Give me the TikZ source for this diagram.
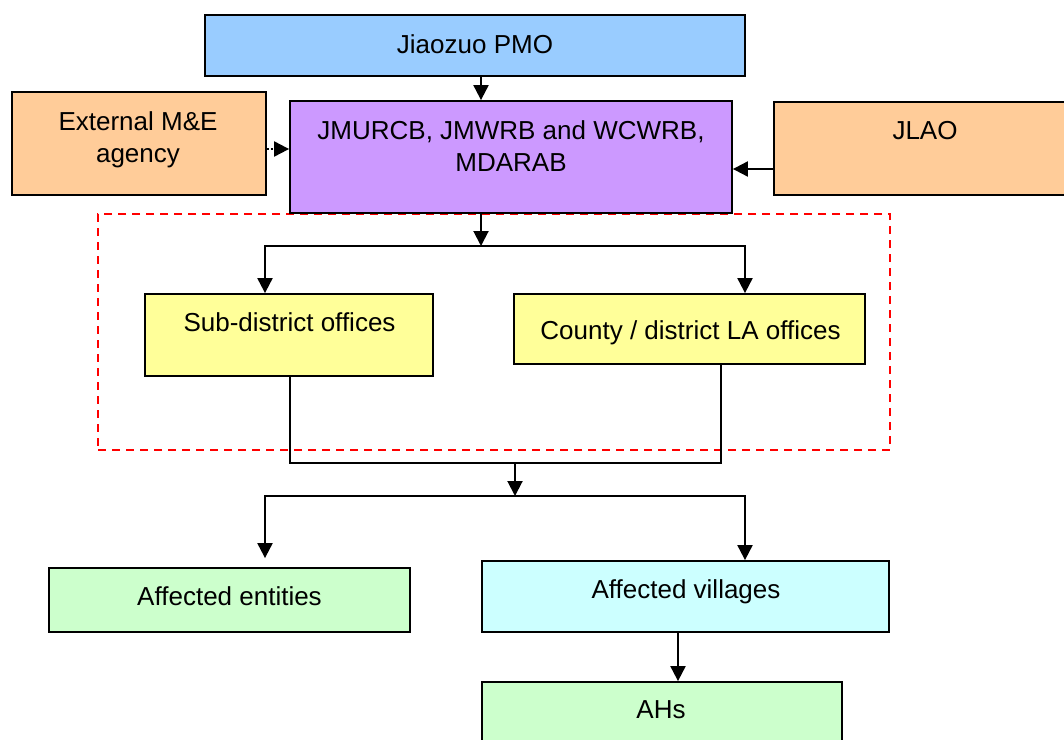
\documentclass[tikz,border=0pt]{standalone}
\usepackage{fontspec}
\setmainfont{Liberation Sans}
\usetikzlibrary{arrows.meta}
\definecolor{cblue}{HTML}{99CCFF}
\definecolor{corange}{HTML}{FFCC99}
\definecolor{cpurple}{HTML}{CC99FF}
\definecolor{cyellow}{HTML}{FFFF99}
\definecolor{cgreen}{HTML}{CCFFCC}
\definecolor{ccyan}{HTML}{CCFFFF}
\tikzset{
  box/.style={draw=black, line width=1.8pt, inner sep=0pt},
  txt/.style={anchor=base, align=center, inner sep=0pt, font=\fontsize{26}{32}\selectfont},
  conn/.style={draw=black, line width=2pt},
  arr/.style={conn, -{Triangle[length=15pt,width=15pt]}},
  grp/.style={draw=red, line width=1.5pt, dash pattern=on 8pt off 6pt, inner sep=0pt}
}
\begin{document}
\begin{tikzpicture}[x=1pt,y=-1pt]
\useasboundingbox (0,0) rectangle (1064,739);
\begin{scope}
\clip (0,0) rectangle (1064,739);
% group frame
\node[grp, minimum width=792pt, minimum height=236pt] (grp) at (494,332) {};
% boxes
\node[box, fill=cblue, minimum width=540pt, minimum height=61pt] (pmo) at (475,45.5) {};
\node[box, fill=corange, minimum width=254pt, minimum height=103pt] (ext) at (139,143.5) {};
\node[box, fill=cpurple, minimum width=442pt, minimum height=112pt] (jm) at (511,157) {};
\node[box, fill=corange, minimum width=306pt, minimum height=93pt] (jlao) at (927,148.5) {};
\node[box, fill=cyellow, minimum width=288pt, minimum height=82pt] (sub) at (289,335) {};
\node[box, fill=cyellow, minimum width=351pt, minimum height=70pt] (cty) at (689.5,329) {};
\node[box, fill=cgreen, minimum width=361pt, minimum height=64pt] (ent) at (229.5,600) {};
\node[box, fill=ccyan, minimum width=407pt, minimum height=71pt] (vil) at (685.5,596.5) {};
\node[box, fill=cgreen, minimum width=360pt, minimum height=64pt] (ah) at (662,714) {};
% texts
\node[txt] (tpmo) at (475,53.5) {Jiaozuo PMO};
\node[txt] (text) at (138,162.5) {External M\&E\\agency};
\node[txt] (tjm) at (511,171.5) {JMURCB, JMWRB and WCWRB,\\MDARAB};
\node[txt] (tjlao) at (925,139.5) {JLAO};
\node[txt] (tsub) at (289.5,331.5) {Sub-district offices};
\node[txt] (tcty) at (690.5,339.5) {County / district LA offices};
\node[txt] (tent) at (229.5,605.5) {Affected entities};
\node[txt] (tvil) at (686,598.5) {Affected villages};
\node[txt] (tah) at (661,718.5) {AHs};
% helper coordinates
\coordinate (x481) at (481,0);
\coordinate (y149) at (0,149);
\coordinate (y169) at (0,169);
\coordinate (j1) at (481,246);
\coordinate (x265) at (265,0);
\coordinate (x745) at (745,0);
\coordinate (x290) at (290,0);
\coordinate (x721) at (721,0);
\coordinate (j2) at (515,463);
\coordinate (j3) at (515,496);
\coordinate (x678) at (678,0);
% connectors
\draw[arr] (pmo.south -| x481) -- (jm.north -| x481);
\draw[arr, dash pattern=on 2pt off 2pt] (ext.east |- y149) -- (jm.west |- y149);
\draw[arr] (jlao.west |- y169) -- (jm.east |- y169);
\draw[arr] (jm.south -| x481) -- (j1);
\draw[arr] (j1) -| (sub.north -| x265);
\draw[arr] (j1) -| (cty.north -| x745);
\draw[conn] (sub.south -| x290) |- (j2) -| (cty.south -| x721);
\draw[arr] (j2) -- (j3);
\draw[arr, shorten >=9pt] (j3) -| (ent.north -| x265);
\draw[arr] (j3) -| (vil.north -| x745);
\draw[arr] (vil.south -| x678) -- (ah.north -| x678);
\end{scope}
\end{tikzpicture}
\end{document}
